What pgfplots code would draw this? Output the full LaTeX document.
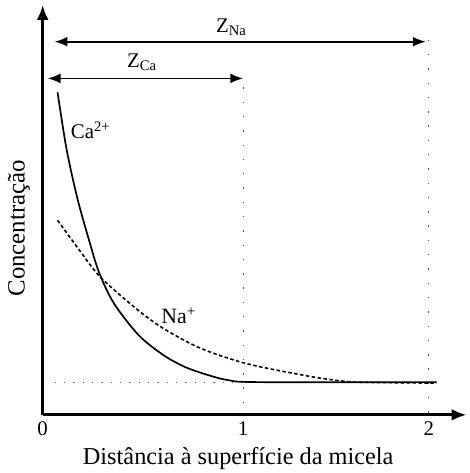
\documentclass[border=0pt]{standalone}
\usepackage{fontspec}
\setmainfont{Liberation Serif}
\usepackage{pgfplots}
\pgfplotsset{compat=1.18}
\usetikzlibrary{arrows.meta}
\begin{document}
\begin{tikzpicture}
% units: 1 data unit = 1pt (pixel positions of the reference)
\begin{axis}[
  scale only axis,
  width=427pt, height=413pt,
  xmin=0, xmax=427, ymin=0, ymax=413,
  axis lines=left,
  axis line style={line width=3.2pt,-{Latex[length=15pt,width=12pt]}},
  xtick={0,202,389}, xticklabels={0,1,2},
  ytick=\empty,
  major tick length=0pt,
  tick label style={font=\fontsize{21}{24}\selectfont},
  xticklabel style={yshift=-3pt},
  /pgf/number format/assume math mode=true,
  clip=false,
]
% surface distances
\addplot[black!70, line width=1.2pt, dash pattern=on 1.4pt off 13pt] coordinates {(202,330) (202,0)};
\addplot[black!70, line width=1.2pt, dash pattern=on 1.4pt off 13pt] coordinates {(389,378) (389,0)};
\addplot[black!60, line width=1.2pt, dash pattern=on 1.4pt off 8pt] coordinates {(12,33) (397,33)};
% Ca2+
\addplot[black, line width=1.7pt, smooth] coordinates {
(15,325) (24,268) (35,218) (47,175) (57,143) (72,112) (97,80) (122,60) (144,48) (167,40) (187,35) (217,33) (397,33)};
% Na+
\addplot[black, line width=1.6pt, smooth, dash pattern=on 3.5pt off 2.5pt] coordinates {
(15,196) (37,166) (57,140) (87,113) (117,90) (157,68) (204,52) (257,41) (287,36) (317,33) (397,32)};
% arrows
\draw[line width=1.8pt, {Latex[length=13pt,width=10pt]}-{Latex[length=13pt,width=10pt]}] (axis cs:12,376) -- (axis cs:386,376);
\draw[line width=1.8pt, {Latex[length=13pt,width=10pt]}-{Latex[length=13pt,width=10pt]}] (axis cs:5,339) -- (axis cs:202,339);
\node[font=\fontsize{21}{24}\selectfont] at (axis cs:190,391) {Z\textsubscript{Na}};
\node[font=\fontsize{21}{24}\selectfont] at (axis cs:100,355) {Z\textsubscript{Ca}};
\node[font=\fontsize{21}{24}\selectfont, anchor=west] at (axis cs:25,287) {Ca\textsuperscript{2+}};
\node[font=\fontsize{22}{24}\selectfont] at (axis cs:137,100) {Na\textsuperscript{+}};
% axis titles
\node[font=\fontsize{24.5}{28}\selectfont] at (axis cs:197,-44) {Distância à superfície da micela};
\node[font=\fontsize{25}{28}\selectfont, rotate=90] at (axis cs:-24,188) {Concentração};
\path (axis cs:-43,-53) rectangle (axis cs:430,418);
\end{axis}
\end{tikzpicture}
\end{document}
